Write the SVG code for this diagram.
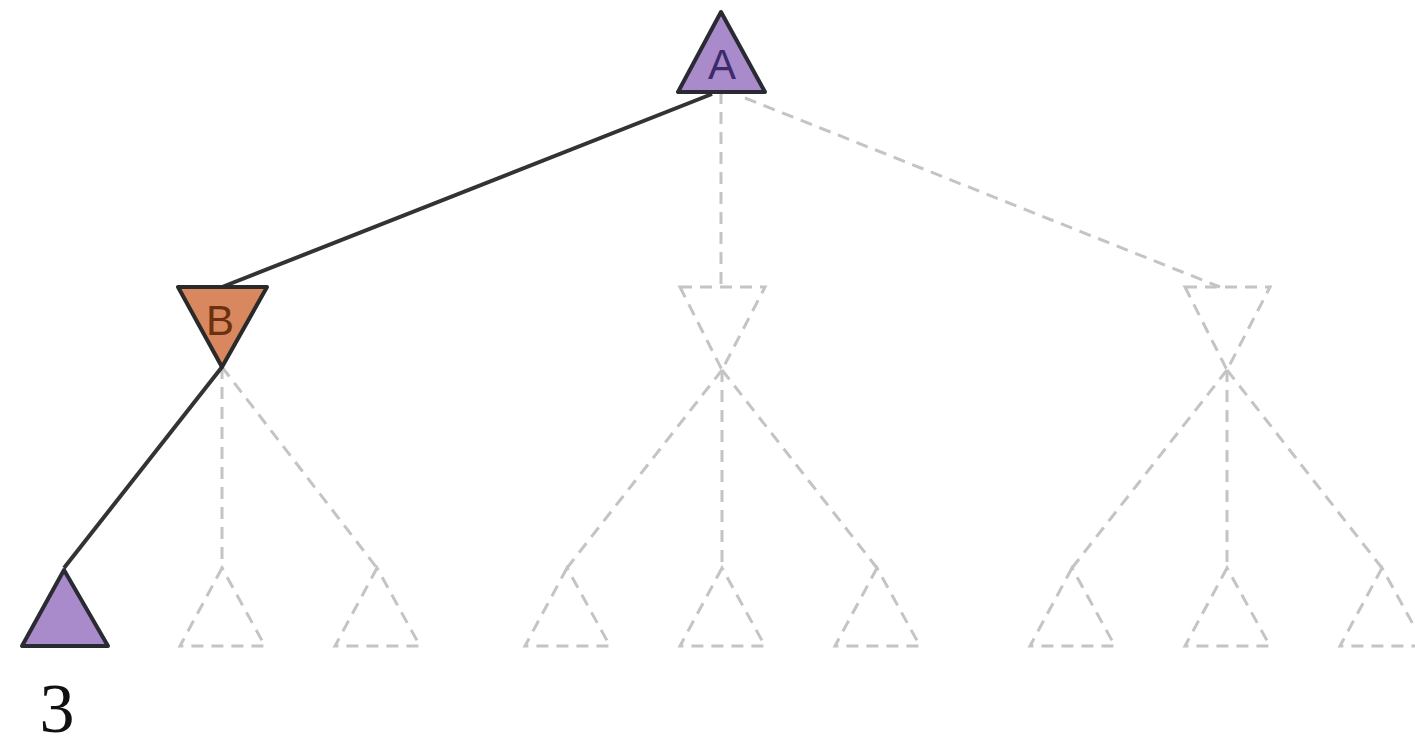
<svg xmlns="http://www.w3.org/2000/svg" width="1415" height="748" viewBox="0 0 1415 748">
<style>
.dash{stroke:#c4c4c4;stroke-width:3;stroke-dasharray:12 8;fill:none}
.solid{stroke:#333333;stroke-width:4;fill:none}
.max{fill:#a98bcb;stroke:#2a2a33;stroke-width:4;stroke-linejoin:round}
.min{fill:#d8875e;stroke:#2a2a2a;stroke-width:4;stroke-linejoin:round}
.ghost{fill:none;stroke:#c4c4c4;stroke-width:3;stroke-dasharray:12 8}
.lbl{font-family:"Liberation Sans",Arial,sans-serif;font-size:42px;text-anchor:middle}
</style>
<rect width="1415" height="748" fill="#ffffff"/>
<g id="connectors">
<line class="dash" x1="721" y1="92" x2="721" y2="287"/>
<line class="dash" x1="745" y1="98" x2="1220" y2="287"/>
<line class="dash" x1="222" y1="367" x2="222" y2="568"/>
<line class="dash" x1="222" y1="367" x2="377" y2="568"/>
<line class="dash" x1="722" y1="370" x2="567" y2="568"/>
<line class="dash" x1="722" y1="370" x2="722" y2="568"/>
<line class="dash" x1="722" y1="370" x2="877" y2="568"/>
<line class="dash" x1="1227" y1="370" x2="1072" y2="568"/>
<line class="dash" x1="1227" y1="370" x2="1227" y2="568"/>
<line class="dash" x1="1227" y1="370" x2="1382" y2="568"/>
<line class="solid" x1="712" y1="94" x2="222" y2="287"/>
<line class="solid" x1="222" y1="367" x2="64" y2="568"/>
</g>
<g id="nodeA">
<polygon class="max" points="721,12 678,92 765,92"/>
<text class="lbl" x="722" y="79" fill="#3d2a6b">A</text>
</g>
<g id="nodeB">
<polygon class="min" points="178,287 267,287 222,367"/>
<text class="lbl" x="220" y="335" fill="#6a3010">B</text>
</g>
<g id="nodeC">
<polygon class="ghost" points="680,287 765,287 722,370"/>
</g>
<g id="nodeD">
<polygon class="ghost" points="1185,287 1270,287 1227,370"/>
</g>
<g id="leaf1">
<polygon class="max" points="64,570 22,646 108,646"/>
<text x="57" y="732" font-family="Liberation Serif,'Times New Roman',serif" font-size="70" text-anchor="middle" fill="#111">3</text>
</g>
<g id="leaf2"><polygon class="ghost" points="222,568 180,646 265,646"/></g>
<g id="leaf3"><polygon class="ghost" points="377,568 335,646 420,646"/></g>
<g id="leaf4"><polygon class="ghost" points="567,568 525,646 610,646"/></g>
<g id="leaf5"><polygon class="ghost" points="722,568 680,646 765,646"/></g>
<g id="leaf6"><polygon class="ghost" points="877,568 835,646 920,646"/></g>
<g id="leaf7"><polygon class="ghost" points="1072,568 1030,646 1115,646"/></g>
<g id="leaf8"><polygon class="ghost" points="1227,568 1185,646 1270,646"/></g>
<g id="leaf9"><polygon class="ghost" points="1382,568 1340,646 1425,646"/></g>
</svg>
